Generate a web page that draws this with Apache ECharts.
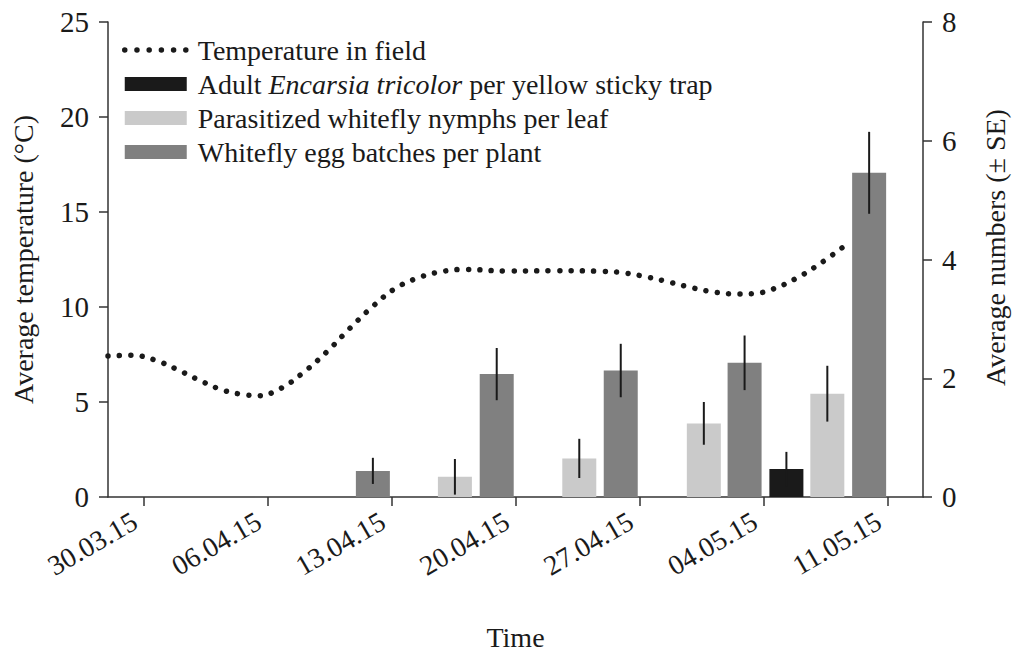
<!DOCTYPE html>
<html>
  <head>
    <meta charset="utf-8">
    <title>Temperature and whitefly counts</title>
    <script src="https://cdn.jsdelivr.net/npm/echarts@6/dist/echarts.min.js"></script>
    <style>
      html, body { margin: 0; padding: 0; background: #fff; }
      #chart { width: 1015px; height: 652px; }
    </style>
  </head>
  <body>
    <div id="chart"></div>
    <script type="text/javascript">
      // x positions are days after 30.03.15
      var tickDays = [0, 7, 14, 21, 28, 35, 42];
      var tickLabels = ["30.03.15", "06.04.15", "13.04.15", "20.04.15", "27.04.15", "04.05.15", "11.05.15"];

      // temperature in field (°C)
      var tempDays = [-2, -0.66, 0.64, 1.93, 3.21, 4.53, 5.8, 6.46, 7.76, 9.04, 10.36, 11.63, 12.93, 14.22,
                      15.52, 16.81, 18.08, 20.67, 23.26, 25.86, 27.15, 28.43, 29.72, 31.02, 32.32, 33.61,
                      34.6, 35.55, 36.85, 38.14, 39.44];
      var tempValues = [7.42, 7.46, 7.21, 6.70, 6.12, 5.61, 5.37, 5.33, 5.72, 6.56, 7.65, 8.86, 10.02, 10.98,
                        11.54, 11.86, 11.98, 11.89, 11.91, 11.88, 11.79, 11.58, 11.30, 11.00, 10.77, 10.68,
                        10.72, 10.95, 11.51, 12.25, 13.12];

      // adult Encarsia tricolor per yellow sticky trap
      var adultDays = [36.29];
      var adultMean = [0.47];
      var adultSE = [0.29];

      // parasitized whitefly nymphs per leaf
      var nymphDays = [17.58, 24.6, 31.63, 38.6];
      var nymphMean = [0.34, 0.65, 1.24, 1.74];
      var nymphSE = [0.30, 0.33, 0.36, 0.47];

      // whitefly egg batches per plant
      var eggDays = [12.95, 19.94, 26.94, 33.93, 40.96];
      var eggMean = [0.44, 2.07, 2.13, 2.26, 5.46];
      var eggSE = [0.22, 0.44, 0.45, 0.46, 0.69];

      var FONT = "'Liberation Serif', 'Times New Roman', serif";
      var INK = "#1a1a1a";
      var AXIS = "#333333";

      function pairs(xs, ys){
        var out = [];
        for (var i = 0; i < xs.length; i++) out.push([xs[i], ys[i]]);
        return out;
      }

      function errRows(xs, ys, se){
        var out = [];
        for (var i = 0; i < xs.length; i++) out.push([xs[i], ys[i] - se[i], ys[i] + se[i]]);
        return out;
      }

      var errData = []
        .concat(errRows(eggDays, eggMean, eggSE))
        .concat(errRows(nymphDays, nymphMean, nymphSE))
        .concat(errRows(adultDays, adultMean, adultSE));

      var myChart = echarts.init(document.getElementById("chart"), null, { renderer: "svg" });

      var axisLineStyle = { show: true, onZero: false, lineStyle: { color: AXIS, width: 1.5 } };
      var axisTickStyle = { show: true, inside: false, length: 9, lineStyle: { color: AXIS, width: 1.5 } };
      var titleStyle = { fontFamily: FONT, fontSize: 28, color: INK };

      var option = {
        backgroundColor: "#ffffff",
        animation: false,
        textStyle: { fontFamily: FONT },
        grid: { left: 108, right: 92, top: 22, bottom: 155, outerBoundsMode: "none", containLabel: false },
        legend: {
          orient: "vertical",
          left: 122,
          top: 36,
          padding: 0,
          itemWidth: 62,
          itemHeight: 14,
          itemGap: 6,
          selectedMode: false,
          textStyle: {
            fontFamily: FONT, fontSize: 28, color: INK, lineHeight: 28, padding: [0, 0, 0, 6],
            rich: {
              n: { fontFamily: FONT, fontSize: 28, color: INK, lineHeight: 28 },
              i: { fontFamily: FONT, fontSize: 28, color: INK, lineHeight: 28, fontStyle: "italic" }
            }
          },
          formatter: function(name){
            if (name.indexOf("Encarsia") >= 0) {
              return "{n|Adult }{i|Encarsia tricolor}{n| per yellow sticky trap}";
            }
            return name;
          },
          data: [
            {
              name: "Temperature in field",
              itemStyle: { color: "rgba(0,0,0,0)", borderWidth: 0 },
              lineStyle: { color: INK, width: 5.5, type: [0.01, 12.2], cap: "round" }
            },
            { name: "Adult Encarsia tricolor per yellow sticky trap", icon: "rect" },
            { name: "Parasitized whitefly nymphs per leaf", icon: "rect" },
            { name: "Whitefly egg batches per plant", icon: "rect" }
          ]
        },
        xAxis: {
          type: "value",
          min: -2,
          max: 44,
          name: "Time",
          nameLocation: "middle",
          nameGap: 126,
          nameTextStyle: titleStyle,
          axisLine: axisLineStyle,
          axisTick: { show: true, inside: false, length: 9, lineStyle: { color: AXIS, width: 1.5 }, customValues: tickDays },
          axisLabel: {
            customValues: tickDays,
            rotate: 30,
            margin: 17,
            padding: [0, 10, 0, 0],
            fontFamily: FONT, fontSize: 28, color: INK,
            formatter: function(v){
              var k = tickDays.indexOf(Math.round(v));
              return k >= 0 ? tickLabels[k] : "";
            }
          },
          splitLine: { show: false }
        },
        yAxis: [
          {
            type: "value",
            min: 0, max: 25, interval: 5,
            position: "left",
            name: "Average temperature (°C)",
            nameLocation: "middle",
            nameRotate: 90,
            nameGap: 71,
            nameTextStyle: titleStyle,
            axisLine: axisLineStyle,
            axisTick: axisTickStyle,
            axisLabel: { margin: 19, fontFamily: FONT, fontSize: 29, color: INK },
            splitLine: { show: false }
          },
          {
            type: "value",
            min: 0, max: 8, interval: 2,
            position: "right",
            name: "Average numbers (± SE)",
            nameLocation: "middle",
            nameRotate: 90,
            nameGap: 58,
            nameTextStyle: { fontFamily: FONT, fontSize: 28, color: INK, padding: [0, 0, 0, 24] },
            axisLine: axisLineStyle,
            axisTick: axisTickStyle,
            axisLabel: { margin: 19, fontFamily: FONT, fontSize: 29, color: INK },
            splitLine: { show: false }
          }
        ],
        series: [
          {
            name: "Temperature in field",
            type: "line",
            yAxisIndex: 0,
            smooth: 0.4,
            symbol: "none",
            data: pairs(tempDays, tempValues),
            lineStyle: { color: INK, width: 5.5, type: [0.01, 11.4], cap: "round" },
            itemStyle: { color: INK },
            z: 3
          },
          {
            name: "Adult Encarsia tricolor per yellow sticky trap",
            type: "bar",
            yAxisIndex: 1,
            barWidth: 34,
            barGap: "-100%",
            data: pairs(adultDays, adultMean),
            itemStyle: { color: "#1a1a1a" }
          },
          {
            name: "Parasitized whitefly nymphs per leaf",
            type: "bar",
            yAxisIndex: 1,
            barWidth: 34,
            barGap: "-100%",
            data: pairs(nymphDays, nymphMean),
            itemStyle: { color: "#cacaca" }
          },
          {
            name: "Whitefly egg batches per plant",
            type: "bar",
            yAxisIndex: 1,
            barWidth: 34,
            barGap: "-100%",
            data: pairs(eggDays, eggMean),
            itemStyle: { color: "#808080" }
          },
          {
            name: "SE",
            type: "custom",
            yAxisIndex: 1,
            z: 5,
            data: errData,
            encode: { x: 0, y: [1, 2] },
            renderItem: function(params, api){
              var lo = api.coord([api.value(0), api.value(1)]);
              var hi = api.coord([api.value(0), api.value(2)]);
              return {
                type: "line",
                shape: { x1: lo[0], y1: lo[1], x2: hi[0], y2: hi[1] },
                style: { stroke: "#1a1a1a", lineWidth: 2 }
              };
            }
          }
        ]
      };

      myChart.setOption(option);
    </script>
  </body>
</html>
